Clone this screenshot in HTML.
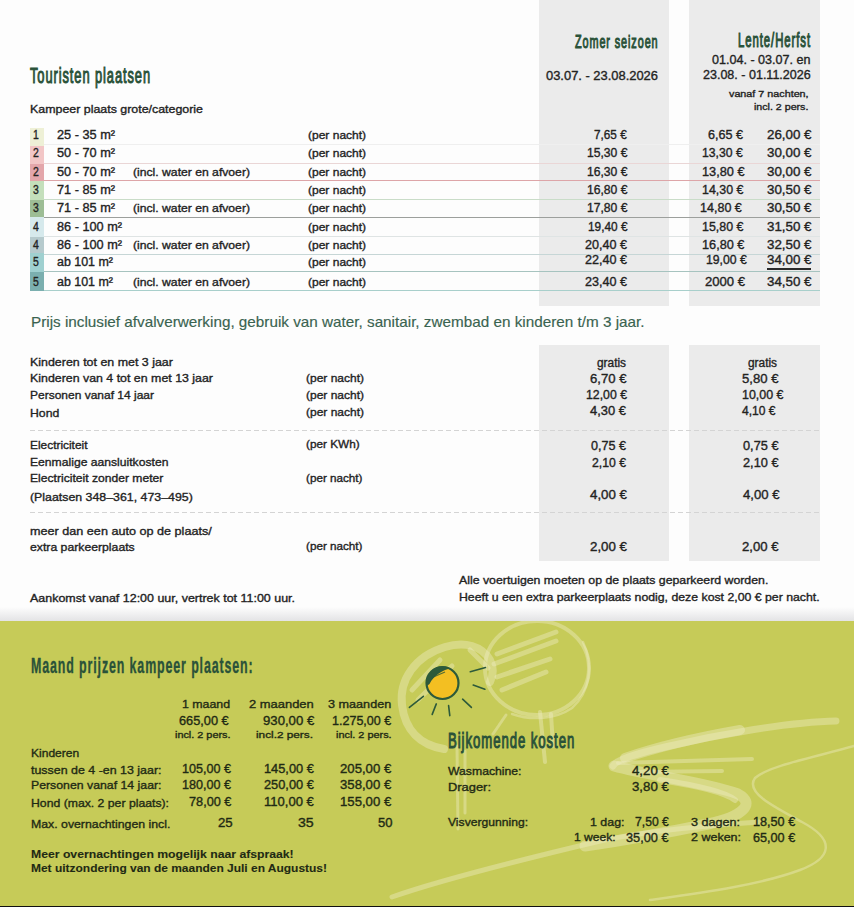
<!DOCTYPE html>
<html><head><meta charset="utf-8">
<style>
html,body{margin:0;padding:0;}
body{width:854px;height:907px;position:relative;overflow:hidden;background:#fdfdfd;font-family:"Liberation Sans",sans-serif;}
.t{position:absolute;white-space:nowrap;transform-origin:0 0;-webkit-text-stroke:0.35px currentColor;}
.g{position:absolute;background:#ebebeb;}
.sw{position:absolute;left:30px;width:14px;}
.ln{position:absolute;left:44px;width:776px;height:1px;}
.dash{position:absolute;left:30px;width:790px;height:1px;background-image:linear-gradient(to right,#d4d4d4 0,#d4d4d4 5px,transparent 5px,transparent 8px);background-size:8px 1px;}
#green{position:absolute;left:0;top:621px;width:854px;height:285px;background:#c6cb58;overflow:hidden;}
#shadow{position:absolute;left:0;top:607px;width:854px;height:14px;background:linear-gradient(#fdfdfd,#e3e3e5);}
#bl{position:absolute;left:0;top:906px;width:854px;height:1px;background:#111;}
</style></head><body>
<div class="g" style="left:539px;top:0;width:130px;height:306px"></div>
<div class="g" style="left:689px;top:0;width:131px;height:306px"></div>
<div class="g" style="left:539px;top:345px;width:130px;height:216px"></div>
<div class="g" style="left:689px;top:345px;width:131px;height:216px"></div>

<div class="sw" style="top:128px;height:18px;background:#eef0d6"></div>
<div class="sw" style="top:146px;height:17.5px;background:#f2c6c6"></div>
<div class="sw" style="top:163.5px;height:17.5px;background:#e3a6aa"></div>
<div class="sw" style="top:181px;height:18.5px;background:#c4dfbb"></div>
<div class="sw" style="top:199.5px;height:17.5px;background:#9dbd95"></div>
<div class="sw" style="top:217px;height:19.5px;background:#d6e9ec"></div>
<div class="sw" style="top:236.5px;height:16.5px;background:#b6cacd"></div>
<div class="sw" style="top:253px;height:18.5px;background:#9fd0d0"></div>
<div class="sw" style="top:271.5px;height:19px;background:#7bafaf"></div>

<div class="ln" style="top:144px;background:#efefef"></div>
<div class="ln" style="top:163px;background:#ead6d6"></div>
<div class="ln" style="top:180px;background:#dda5a8"></div>
<div class="ln" style="top:199px;background:#c9dcc8"></div>
<div class="ln" style="top:217px;background:#9c9f9c"></div>
<div class="ln" style="top:236px;background:#dfe4e4"></div>
<div class="ln" style="top:254px;background:#c6d6d6"></div>
<div class="ln" style="top:271px;background:#a6c3bf"></div>
<div class="ln" style="top:290px;background:#a8cfcb"></div>
<div style="position:absolute;left:767px;top:268px;width:44px;height:1.5px;background:#2a2a2a"></div>

<div class="dash" style="top:430px"></div>
<div class="dash" style="top:512px"></div>

<div id="shadow"></div>
<div id="green">
<svg width="854" height="285" viewBox="0 621 854 285" style="position:absolute;left:0;top:0">
<g fill="none" stroke="#eeecc4" stroke-opacity="0.42" stroke-linecap="round" stroke-linejoin="round">
<ellipse cx="537" cy="668" rx="52" ry="47" stroke-width="4"/>
<path d="M583 642 C594 665 590 692 572 708 C556 719 532 721 512 714" stroke-width="2.5"/>
<path d="M444 749 C420 745 405 730 402 705 C399 680 415 656 445 647 C465 641 482 646 490 660 C494 668 493 676 490 682" stroke-width="8"/>
<path d="M412 690 L440 660 M418 700 L452 666 M470 650 L488 668" stroke-width="5"/>
<path d="M497 654 L556 632 M494 664 L556 641 M497 677 L550 659 M502 690 L546 672" stroke-width="5"/>
<path d="M540 712 L545 762 M551 714 L553 746" stroke-width="4"/>
<path d="M506 715 L493 734" stroke-width="3"/>
<path d="M457 746 L458 829 M465 751 L465 813" stroke-width="3"/>
<path d="M836 721 C790 722 720 734 665 747 C635 754 616 760 613 766" stroke-width="7"/>
<path d="M740 730 C700 737 660 746 625 758" stroke-width="10"/>
<path d="M614 766 C650 776 705 782 738 794 C755 803 745 816 708 824 C670 832 625 840 585 846" stroke-width="11"/>
<path d="M660 780 C700 786 725 792 735 800" stroke-width="6"/>
<path d="M618 763 L752 759 M636 772 L722 771" stroke-width="4"/>
<path d="M854 746 C815 757 768 766 755 778 C745 792 772 806 802 822 C836 840 832 858 800 870 C760 885 700 893 650 900" stroke-width="2.5"/>
<path d="M392 897 C440 880 520 860 600 841 C640 832 700 826 760 822" stroke-width="5"/>
</g>
<circle cx="442.5" cy="683" r="16" fill="#f3bf22" stroke="#2d5a3a" stroke-width="2.2"/>
<path d="M426.8 686 A16 16 0 0 1 450 668.5 C443 670 434 675 429.5 684 Z" fill="#2d5a3a"/>
<path d="M431 678 L445 672" stroke="#2d5a3a" stroke-width="1.2" opacity="0.8"/>

<g stroke="#2d5a3a" stroke-width="1.6" stroke-linecap="round">
<line x1="409.4" y1="707.4" x2="423.4" y2="696.3"/>
<line x1="432.2" y1="714.4" x2="436.3" y2="703.9"/>
<line x1="449.8" y1="715.6" x2="448.6" y2="705.6"/>
<line x1="462.6" y1="699.2" x2="471.4" y2="707.4"/>
<line x1="473.2" y1="685.1" x2="484.9" y2="689.2"/>
<line x1="470.3" y1="671.7" x2="485.5" y2="667.6"/>
</g>
</svg>
</div>
<div id="bl"></div>
<div class="t" style="left:30.0px;top:64.62px;font-size:22.3px;line-height:22.3px;color:#2a5239;-webkit-text-stroke:1.1px currentColor;letter-spacing:1.6px;transform:scaleX(0.5768)">Touristen plaatsen</div>
<div class="t" style="left:30.0px;top:103.28px;font-size:11.6px;line-height:11.6px;color:#23231f;transform:scaleX(1.0694)">Kampeer plaats grote/categorie</div>
<div class="t" style="left:574.5px;top:32.32px;font-size:19px;line-height:19px;color:#2a5239;-webkit-text-stroke:1.1px currentColor;letter-spacing:1.6px;transform:scaleX(0.5701)">Zomer seizoen</div>
<div class="t" style="left:545.7px;top:69.99px;font-size:12.3px;line-height:12.3px;color:#23231f;transform:scaleX(1.0499)">03.07. - 23.08.2026</div>
<div class="t" style="left:737.5px;top:31.39px;font-size:19.5px;line-height:19.5px;color:#2a5239;-webkit-text-stroke:1.1px currentColor;letter-spacing:1.6px;transform:scaleX(0.5820)">Lente/Herfst</div>
<div class="t" style="left:712.0px;top:54.49px;font-size:12.3px;line-height:12.3px;color:#23231f;transform:scaleX(1.0217)">01.04. - 03.07. en</div>
<div class="t" style="left:702.8px;top:68.99px;font-size:12.3px;line-height:12.3px;color:#23231f;transform:scaleX(1.0184)">23.08. - 01.11.2026</div>
<div class="t" style="left:729.3px;top:89.47px;font-size:9.6px;line-height:9.6px;color:#23231f;transform:scaleX(1.1219)">vanaf 7 nachten,</div>
<div class="t" style="left:754.0px;top:101.87px;font-size:9.6px;line-height:9.6px;color:#23231f;transform:scaleX(1.1088)">incl. 2 pers.</div>
<div class="t" style="left:33.4px;top:129.19px;font-size:12.3px;line-height:12.3px;color:#23231f;transform:scaleX(0.8475)">1</div>
<div class="t" style="left:57.0px;top:129.19px;font-size:12.3px;line-height:12.3px;color:#23231f;transform:scaleX(1.0348)">25 - 35 m²</div>
<div class="t" style="left:307.7px;top:130.03px;font-size:11.3px;line-height:11.3px;color:#23231f;transform:scaleX(1.0633)">(per nacht)</div>
<div class="t" style="left:594.3px;top:129.19px;font-size:12.3px;line-height:12.3px;color:#23231f;transform:scaleX(0.9561)">7,65 €</div>
<div class="t" style="left:708.0px;top:129.19px;font-size:12.3px;line-height:12.3px;color:#23231f;transform:scaleX(1.0233)">6,65 €</div>
<div class="t" style="left:767.0px;top:129.19px;font-size:12.3px;line-height:12.3px;color:#23231f;transform:scaleX(1.0845)">26,00 €</div>
<div class="t" style="left:33.4px;top:147.19px;font-size:12.3px;line-height:12.3px;color:#23231f;transform:scaleX(0.8475)">2</div>
<div class="t" style="left:57.0px;top:147.19px;font-size:12.3px;line-height:12.3px;color:#23231f;transform:scaleX(1.0348)">50 - 70 m²</div>
<div class="t" style="left:307.7px;top:148.03px;font-size:11.3px;line-height:11.3px;color:#23231f;transform:scaleX(1.0633)">(per nacht)</div>
<div class="t" style="left:586.5px;top:147.19px;font-size:12.3px;line-height:12.3px;color:#23231f;transform:scaleX(0.9871)">15,30 €</div>
<div class="t" style="left:702.3px;top:147.19px;font-size:12.3px;line-height:12.3px;color:#23231f;transform:scaleX(0.9919)">13,30 €</div>
<div class="t" style="left:767.0px;top:147.19px;font-size:12.3px;line-height:12.3px;color:#23231f;transform:scaleX(1.0845)">30,00 €</div>
<div class="t" style="left:33.4px;top:165.69px;font-size:12.3px;line-height:12.3px;color:#23231f;transform:scaleX(0.8475)">2</div>
<div class="t" style="left:57.0px;top:165.69px;font-size:12.3px;line-height:12.3px;color:#23231f;transform:scaleX(1.0348)">50 - 70 m²</div>
<div class="t" style="left:133.0px;top:166.53px;font-size:11.3px;line-height:11.3px;color:#23231f;transform:scaleX(1.0771)">(incl. water en afvoer)</div>
<div class="t" style="left:307.7px;top:166.53px;font-size:11.3px;line-height:11.3px;color:#23231f;transform:scaleX(1.0633)">(per nacht)</div>
<div class="t" style="left:586.5px;top:165.69px;font-size:12.3px;line-height:12.3px;color:#23231f;transform:scaleX(0.9871)">16,30 €</div>
<div class="t" style="left:702.3px;top:165.69px;font-size:12.3px;line-height:12.3px;color:#23231f;transform:scaleX(1.0358)">13,80 €</div>
<div class="t" style="left:767.0px;top:165.69px;font-size:12.3px;line-height:12.3px;color:#23231f;transform:scaleX(1.0845)">30,00 €</div>
<div class="t" style="left:33.4px;top:184.19px;font-size:12.3px;line-height:12.3px;color:#23231f;transform:scaleX(0.8475)">3</div>
<div class="t" style="left:57.0px;top:184.19px;font-size:12.3px;line-height:12.3px;color:#23231f;transform:scaleX(1.0348)">71 - 85 m²</div>
<div class="t" style="left:307.7px;top:185.03px;font-size:11.3px;line-height:11.3px;color:#23231f;transform:scaleX(1.0633)">(per nacht)</div>
<div class="t" style="left:586.5px;top:184.19px;font-size:12.3px;line-height:12.3px;color:#23231f;transform:scaleX(0.9871)">16,80 €</div>
<div class="t" style="left:702.3px;top:184.19px;font-size:12.3px;line-height:12.3px;color:#23231f;transform:scaleX(1.0090)">14,30 €</div>
<div class="t" style="left:767.0px;top:184.19px;font-size:12.3px;line-height:12.3px;color:#23231f;transform:scaleX(1.0845)">30,50 €</div>
<div class="t" style="left:33.4px;top:202.49px;font-size:12.3px;line-height:12.3px;color:#23231f;transform:scaleX(0.8475)">3</div>
<div class="t" style="left:57.0px;top:202.49px;font-size:12.3px;line-height:12.3px;color:#23231f;transform:scaleX(1.0348)">71 - 85 m²</div>
<div class="t" style="left:133.0px;top:203.33px;font-size:11.3px;line-height:11.3px;color:#23231f;transform:scaleX(1.0771)">(incl. water en afvoer)</div>
<div class="t" style="left:307.7px;top:203.33px;font-size:11.3px;line-height:11.3px;color:#23231f;transform:scaleX(1.0633)">(per nacht)</div>
<div class="t" style="left:586.5px;top:202.49px;font-size:12.3px;line-height:12.3px;color:#23231f;transform:scaleX(0.9871)">17,80 €</div>
<div class="t" style="left:699.6px;top:202.49px;font-size:12.3px;line-height:12.3px;color:#23231f;transform:scaleX(1.0187)">14,80 €</div>
<div class="t" style="left:767.0px;top:202.49px;font-size:12.3px;line-height:12.3px;color:#23231f;transform:scaleX(1.0845)">30,50 €</div>
<div class="t" style="left:33.4px;top:220.89px;font-size:12.3px;line-height:12.3px;color:#23231f;transform:scaleX(0.8475)">4</div>
<div class="t" style="left:57.0px;top:220.89px;font-size:12.3px;line-height:12.3px;color:#23231f;transform:scaleX(1.0335)">86 - 100 m²</div>
<div class="t" style="left:307.7px;top:221.73px;font-size:11.3px;line-height:11.3px;color:#23231f;transform:scaleX(1.0633)">(per nacht)</div>
<div class="t" style="left:587.5px;top:220.89px;font-size:12.3px;line-height:12.3px;color:#23231f;transform:scaleX(0.9627)">19,40 €</div>
<div class="t" style="left:702.3px;top:220.89px;font-size:12.3px;line-height:12.3px;color:#23231f;transform:scaleX(1.0090)">15,80 €</div>
<div class="t" style="left:767.0px;top:220.89px;font-size:12.3px;line-height:12.3px;color:#23231f;transform:scaleX(1.0845)">31,50 €</div>
<div class="t" style="left:33.4px;top:238.69px;font-size:12.3px;line-height:12.3px;color:#23231f;transform:scaleX(0.8475)">4</div>
<div class="t" style="left:57.0px;top:238.69px;font-size:12.3px;line-height:12.3px;color:#23231f;transform:scaleX(1.0335)">86 - 100 m²</div>
<div class="t" style="left:133.0px;top:239.53px;font-size:11.3px;line-height:11.3px;color:#23231f;transform:scaleX(1.0771)">(incl. water en afvoer)</div>
<div class="t" style="left:307.7px;top:239.53px;font-size:11.3px;line-height:11.3px;color:#23231f;transform:scaleX(1.0633)">(per nacht)</div>
<div class="t" style="left:585.0px;top:238.69px;font-size:12.3px;line-height:12.3px;color:#23231f;transform:scaleX(1.0236)">20,40 €</div>
<div class="t" style="left:702.3px;top:238.69px;font-size:12.3px;line-height:12.3px;color:#23231f;transform:scaleX(1.0334)">16,80 €</div>
<div class="t" style="left:767.0px;top:238.69px;font-size:12.3px;line-height:12.3px;color:#23231f;transform:scaleX(1.0845)">32,50 €</div>
<div class="t" style="left:33.4px;top:256.49px;font-size:12.3px;line-height:12.3px;color:#23231f;transform:scaleX(0.8475)">5</div>
<div class="t" style="left:57.0px;top:256.49px;font-size:12.3px;line-height:12.3px;color:#23231f;transform:scaleX(1.0113)">ab 101 m²</div>
<div class="t" style="left:307.7px;top:257.33px;font-size:11.3px;line-height:11.3px;color:#23231f;transform:scaleX(1.0633)">(per nacht)</div>
<div class="t" style="left:585.0px;top:253.69px;font-size:12.3px;line-height:12.3px;color:#23231f;transform:scaleX(1.0236)">22,40 €</div>
<div class="t" style="left:705.7px;top:253.69px;font-size:12.3px;line-height:12.3px;color:#23231f;transform:scaleX(0.9944)">19,00 €</div>
<div class="t" style="left:767.0px;top:253.69px;font-size:12.3px;line-height:12.3px;color:#23231f;transform:scaleX(1.0845)">34,00 €</div>
<div class="t" style="left:33.4px;top:276.19px;font-size:12.3px;line-height:12.3px;color:#23231f;transform:scaleX(0.8475)">5</div>
<div class="t" style="left:57.0px;top:276.19px;font-size:12.3px;line-height:12.3px;color:#23231f;transform:scaleX(1.0113)">ab 101 m²</div>
<div class="t" style="left:133.0px;top:277.03px;font-size:11.3px;line-height:11.3px;color:#23231f;transform:scaleX(1.0771)">(incl. water en afvoer)</div>
<div class="t" style="left:307.7px;top:277.03px;font-size:11.3px;line-height:11.3px;color:#23231f;transform:scaleX(1.0633)">(per nacht)</div>
<div class="t" style="left:585.0px;top:276.19px;font-size:12.3px;line-height:12.3px;color:#23231f;transform:scaleX(1.0236)">23,40 €</div>
<div class="t" style="left:704.7px;top:276.19px;font-size:12.3px;line-height:12.3px;color:#23231f;transform:scaleX(1.0631)">2000 €</div>
<div class="t" style="left:767.0px;top:276.19px;font-size:12.3px;line-height:12.3px;color:#23231f;transform:scaleX(1.0845)">34,50 €</div>
<div class="t" style="left:30.5px;top:315.40px;font-size:14.3px;line-height:14.3px;color:#3a6350;-webkit-text-stroke:0.15px currentColor;transform:scaleX(1.0678)">Prijs inclusief afvalverwerking, gebruik van water, sanitair, zwembad en kinderen t/m 3 jaar.</div>
<div class="t" style="left:30.0px;top:355.78px;font-size:11.6px;line-height:11.6px;color:#23231f;transform:scaleX(1.0710)">Kinderen tot en met 3 jaar</div>
<div class="t" style="left:30.0px;top:372.28px;font-size:11.6px;line-height:11.6px;color:#23231f;transform:scaleX(1.0673)">Kinderen van 4 tot en met 13 jaar</div>
<div class="t" style="left:30.0px;top:389.48px;font-size:11.6px;line-height:11.6px;color:#23231f;transform:scaleX(1.0343)">Personen vanaf 14 jaar</div>
<div class="t" style="left:30.0px;top:406.78px;font-size:11.6px;line-height:11.6px;color:#23231f;transform:scaleX(1.0570)">Hond</div>
<div class="t" style="left:305.5px;top:372.53px;font-size:11.3px;line-height:11.3px;color:#23231f;transform:scaleX(1.0615)">(per nacht)</div>
<div class="t" style="left:305.5px;top:389.73px;font-size:11.3px;line-height:11.3px;color:#23231f;transform:scaleX(1.0615)">(per nacht)</div>
<div class="t" style="left:305.5px;top:407.03px;font-size:11.3px;line-height:11.3px;color:#23231f;transform:scaleX(1.0615)">(per nacht)</div>
<div class="t" style="left:30.0px;top:438.78px;font-size:11.6px;line-height:11.6px;color:#23231f;transform:scaleX(1.0256)">Electriciteit</div>
<div class="t" style="left:305.8px;top:439.03px;font-size:11.3px;line-height:11.3px;color:#23231f;transform:scaleX(1.0411)">(per KWh)</div>
<div class="t" style="left:30.0px;top:455.78px;font-size:11.6px;line-height:11.6px;color:#23231f;transform:scaleX(1.0475)">Eenmalige aansluitkosten</div>
<div class="t" style="left:30.0px;top:472.38px;font-size:11.6px;line-height:11.6px;color:#23231f;transform:scaleX(1.0448)">Electriciteit zonder meter</div>
<div class="t" style="left:305.8px;top:472.63px;font-size:11.3px;line-height:11.3px;color:#23231f;transform:scaleX(1.0340)">(per nacht)</div>
<div class="t" style="left:30.0px;top:490.58px;font-size:11.6px;line-height:11.6px;color:#23231f;transform:scaleX(1.0656)">(Plaatsen 348–361, 473–495)</div>
<div class="t" style="left:30.0px;top:524.58px;font-size:11.6px;line-height:11.6px;color:#23231f;transform:scaleX(1.0889)">meer dan een auto op de plaats/</div>
<div class="t" style="left:30.0px;top:540.98px;font-size:11.6px;line-height:11.6px;color:#23231f;transform:scaleX(1.0549)">extra parkeerplaats</div>
<div class="t" style="left:305.8px;top:541.23px;font-size:11.3px;line-height:11.3px;color:#23231f;transform:scaleX(1.0340)">(per nacht)</div>
<div class="t" style="left:597.0px;top:356.94px;font-size:12px;line-height:12px;color:#23231f;transform:scaleX(0.9883)">gratis</div>
<div class="t" style="left:589.5px;top:372.94px;font-size:12px;line-height:12px;color:#23231f;transform:scaleX(1.0936)">6,70 €</div>
<div class="t" style="left:586.0px;top:388.94px;font-size:12px;line-height:12px;color:#23231f;transform:scaleX(1.0238)">12,00 €</div>
<div class="t" style="left:590.0px;top:405.44px;font-size:12px;line-height:12px;color:#23231f;transform:scaleX(1.0787)">4,30 €</div>
<div class="t" style="left:591.0px;top:440.44px;font-size:12px;line-height:12px;color:#23231f;transform:scaleX(1.0487)">0,75 €</div>
<div class="t" style="left:592.0px;top:456.94px;font-size:12px;line-height:12px;color:#23231f;transform:scaleX(1.0187)">2,10 €</div>
<div class="t" style="left:590.0px;top:489.44px;font-size:12px;line-height:12px;color:#23231f;transform:scaleX(1.1086)">4,00 €</div>
<div class="t" style="left:590.0px;top:541.44px;font-size:12px;line-height:12px;color:#23231f;transform:scaleX(1.1086)">2,00 €</div>
<div class="t" style="left:748.0px;top:356.94px;font-size:12px;line-height:12px;color:#23231f;transform:scaleX(0.9883)">gratis</div>
<div class="t" style="left:742.0px;top:372.94px;font-size:12px;line-height:12px;color:#23231f;transform:scaleX(1.0936)">5,80 €</div>
<div class="t" style="left:742.0px;top:388.94px;font-size:12px;line-height:12px;color:#23231f;transform:scaleX(1.0363)">10,00 €</div>
<div class="t" style="left:742.0px;top:405.44px;font-size:12px;line-height:12px;color:#23231f;transform:scaleX(1.0037)">4,10 €</div>
<div class="t" style="left:743.0px;top:440.44px;font-size:12px;line-height:12px;color:#23231f;transform:scaleX(1.0637)">0,75 €</div>
<div class="t" style="left:743.0px;top:456.94px;font-size:12px;line-height:12px;color:#23231f;transform:scaleX(1.0637)">2,10 €</div>
<div class="t" style="left:743.0px;top:489.44px;font-size:12px;line-height:12px;color:#23231f;transform:scaleX(1.0936)">4,00 €</div>
<div class="t" style="left:742.0px;top:541.44px;font-size:12px;line-height:12px;color:#23231f;transform:scaleX(1.0936)">2,00 €</div>
<div class="t" style="left:458.7px;top:574.87px;font-size:11.5px;line-height:11.5px;color:#23231f;transform:scaleX(1.0704)">Alle voertuigen moeten op de plaats geparkeerd worden.</div>
<div class="t" style="left:458.7px;top:592.07px;font-size:11.5px;line-height:11.5px;color:#23231f;transform:scaleX(1.0685)">Heeft u een extra parkeerplaats nodig, deze kost 2,00 € per nacht.</div>
<div class="t" style="left:30.0px;top:592.53px;font-size:11.3px;line-height:11.3px;color:#23231f;transform:scaleX(1.1027)">Aankomst vanaf 12:00 uur, vertrek tot 11:00 uur.</div>
<div class="t" style="left:31.0px;top:653.90px;font-size:22.8px;line-height:22.8px;color:#2a5239;font-weight:700;letter-spacing:1.6px;transform:scaleX(0.5454)">Maand prijzen kampeer plaatsen:</div>
<div class="t" style="left:182.4px;top:698.38px;font-size:11.6px;line-height:11.6px;color:#1f2a14;transform:scaleX(1.0659)">1 maand</div>
<div class="t" style="left:249.0px;top:698.38px;font-size:11.6px;line-height:11.6px;color:#1f2a14;transform:scaleX(1.1152)">2 maanden</div>
<div class="t" style="left:328.4px;top:698.38px;font-size:11.6px;line-height:11.6px;color:#1f2a14;transform:scaleX(1.0894)">3 maanden</div>
<div class="t" style="left:179.3px;top:715.04px;font-size:12px;line-height:12px;color:#1f2a14;transform:scaleX(1.0638)">665,00 €</div>
<div class="t" style="left:262.5px;top:715.04px;font-size:12px;line-height:12px;color:#1f2a14;transform:scaleX(1.0959)">930,00 €</div>
<div class="t" style="left:331.5px;top:715.04px;font-size:12px;line-height:12px;color:#1f2a14;transform:scaleX(1.0437)">1.275,00 €</div>
<div class="t" style="left:175.0px;top:730.47px;font-size:9.6px;line-height:9.6px;color:#1f2a14;transform:scaleX(1.1312)">incl. 2 pers.</div>
<div class="t" style="left:255.9px;top:730.47px;font-size:9.6px;line-height:9.6px;color:#1f2a14;transform:scaleX(1.2265)">incl.2 pers.</div>
<div class="t" style="left:336.0px;top:730.47px;font-size:9.6px;line-height:9.6px;color:#1f2a14;transform:scaleX(1.1332)">incl. 2 pers.</div>
<div class="t" style="left:31.0px;top:746.78px;font-size:11.6px;line-height:11.6px;color:#1f2a14;transform:scaleX(1.0383)">Kinderen</div>
<div class="t" style="left:31.0px;top:763.58px;font-size:11.6px;line-height:11.6px;color:#1f2a14;transform:scaleX(1.0712)">tussen de 4 -en 13 jaar:</div>
<div class="t" style="left:31.0px;top:779.18px;font-size:11.6px;line-height:11.6px;color:#1f2a14;transform:scaleX(1.0600)">Personen vanaf 14 jaar:</div>
<div class="t" style="left:31.0px;top:796.78px;font-size:11.6px;line-height:11.6px;color:#1f2a14;transform:scaleX(1.0549)">Hond (max. 2 per plaats):</div>
<div class="t" style="left:31.0px;top:817.78px;font-size:11.6px;line-height:11.6px;color:#1f2a14;transform:scaleX(1.0603)">Max. overnachtingen incl.</div>
<div class="t" style="left:182.4px;top:763.24px;font-size:12px;line-height:12px;color:#1f2a14;transform:scaleX(1.0488)">105,00 €</div>
<div class="t" style="left:263.9px;top:763.24px;font-size:12px;line-height:12px;color:#1f2a14;transform:scaleX(1.0660)">145,00 €</div>
<div class="t" style="left:340.4px;top:763.24px;font-size:12px;line-height:12px;color:#1f2a14;transform:scaleX(1.0959)">205,00 €</div>
<div class="t" style="left:182.4px;top:778.84px;font-size:12px;line-height:12px;color:#1f2a14;transform:scaleX(1.0488)">180,00 €</div>
<div class="t" style="left:263.9px;top:778.84px;font-size:12px;line-height:12px;color:#1f2a14;transform:scaleX(1.0660)">250,00 €</div>
<div class="t" style="left:340.4px;top:778.84px;font-size:12px;line-height:12px;color:#1f2a14;transform:scaleX(1.0959)">358,00 €</div>
<div class="t" style="left:189.0px;top:796.44px;font-size:12px;line-height:12px;color:#1f2a14;transform:scaleX(1.0588)">78,00 €</div>
<div class="t" style="left:263.9px;top:796.44px;font-size:12px;line-height:12px;color:#1f2a14;transform:scaleX(1.0867)">110,00 €</div>
<div class="t" style="left:340.4px;top:796.44px;font-size:12px;line-height:12px;color:#1f2a14;transform:scaleX(1.0959)">155,00 €</div>
<div class="t" style="left:218.0px;top:817.44px;font-size:12px;line-height:12px;color:#1f2a14;transform:scaleX(1.1004)">25</div>
<div class="t" style="left:298.0px;top:817.44px;font-size:12px;line-height:12px;color:#1f2a14;transform:scaleX(1.1752)">35</div>
<div class="t" style="left:378.0px;top:817.44px;font-size:12px;line-height:12px;color:#1f2a14;transform:scaleX(1.0854)">50</div>
<div class="t" style="left:31.0px;top:848.18px;font-size:11.6px;line-height:11.6px;color:#1f2a14;font-weight:700;-webkit-text-stroke:0.1px currentColor;transform:scaleX(1.0535)">Meer overnachtingen mogelijk naar afspraak!</div>
<div class="t" style="left:31.0px;top:862.38px;font-size:11.6px;line-height:11.6px;color:#1f2a14;font-weight:700;-webkit-text-stroke:0.1px currentColor;transform:scaleX(1.0318)">Met uitzondering van de maanden Juli en Augustus!</div>
<div class="t" style="left:447.8px;top:730.32px;font-size:22.3px;line-height:22.3px;color:#2a5239;-webkit-text-stroke:1.1px currentColor;letter-spacing:1.6px;transform:scaleX(0.5900)">Bijkomende kosten</div>
<div class="t" style="left:448.0px;top:766.03px;font-size:11.3px;line-height:11.3px;color:#1f2a14;transform:scaleX(1.0806)">Wasmachine:</div>
<div class="t" style="left:632.0px;top:765.44px;font-size:12px;line-height:12px;color:#1f2a14;transform:scaleX(1.1026)">4,20 €</div>
<div class="t" style="left:448.0px;top:781.63px;font-size:11.3px;line-height:11.3px;color:#1f2a14;transform:scaleX(1.1414)">Drager:</div>
<div class="t" style="left:632.0px;top:781.04px;font-size:12px;line-height:12px;color:#1f2a14;transform:scaleX(1.1026)">3,80 €</div>
<div class="t" style="left:448.0px;top:817.03px;font-size:11.3px;line-height:11.3px;color:#1f2a14;transform:scaleX(1.0734)">Visvergunning:</div>
<div class="t" style="left:589.5px;top:817.03px;font-size:11.3px;line-height:11.3px;color:#1f2a14;transform:scaleX(1.0980)">1 dag:</div>
<div class="t" style="left:635.0px;top:816.44px;font-size:12px;line-height:12px;color:#1f2a14;transform:scaleX(1.0127)">7,50 €</div>
<div class="t" style="left:691.0px;top:817.03px;font-size:11.3px;line-height:11.3px;color:#1f2a14;transform:scaleX(1.1140)">3 dagen:</div>
<div class="t" style="left:752.8px;top:816.44px;font-size:12px;line-height:12px;color:#1f2a14;transform:scaleX(1.0538)">18,50 €</div>
<div class="t" style="left:574.0px;top:832.33px;font-size:11.3px;line-height:11.3px;color:#1f2a14;transform:scaleX(1.0658)">1 week:</div>
<div class="t" style="left:626.3px;top:831.74px;font-size:12px;line-height:12px;color:#1f2a14;transform:scaleX(1.0613)">35,00 €</div>
<div class="t" style="left:691.0px;top:832.33px;font-size:11.3px;line-height:11.3px;color:#1f2a14;transform:scaleX(1.1057)">2 weken:</div>
<div class="t" style="left:752.8px;top:831.74px;font-size:12px;line-height:12px;color:#1f2a14;transform:scaleX(1.0538)">65,00 €</div>
</body></html>
